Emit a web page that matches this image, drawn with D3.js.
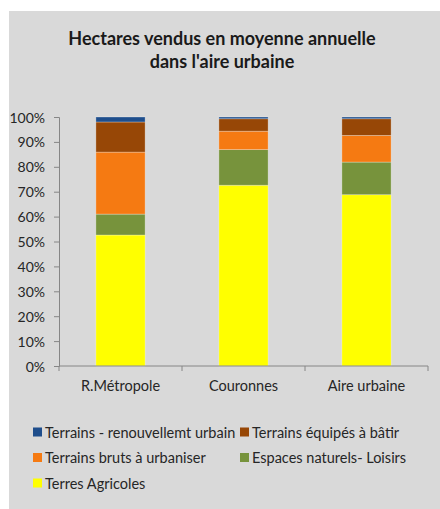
<!DOCTYPE html>
<html>
<head>
<meta charset="utf-8">
<script src="https://cdn.jsdelivr.net/npm/d3@7"></script>
<style>
  body { margin: 0; background: #fff; }
  text { font-family: Lato, sans-serif; fill: #1a1a1a; }
</style>
</head>
<body>
<svg id="chart" width="440" height="509"></svg>
<script>
const categories = ['R.Métropole', 'Couronnes', 'Aire urbaine'];
const seriesNames = ['Terres Agricoles', 'Espaces naturels- Loisirs', 'Terrains bruts à urbaniser', 'Terrains équipés à bâtir', 'Terrains - renouvellemt urbain'];
const agricoles = [52.6, 72.6, 68.8];
const naturels = [8.4, 14.3, 13.1];
const bruts = [24.9, 7.4, 10.7];
const equipes = [12.1, 5.0, 6.7];
const renouvellement = [2.0, 0.7, 0.7];
const yTicks = [0, 10, 20, 30, 40, 50, 60, 70, 80, 90, 100];
const colors = ['#ffff00', '#77933c', '#f57a12', '#974706', '#1f4e8c'];

const svg = d3.select('#chart');
const width = 440;
const height = 509;
const margin = { top: 117, bottom: 143, left: 59, right: 12 };
const innerWidth = width - margin.left - margin.right;
const innerHeight = height - margin.top - margin.bottom;

// grey chart area
svg.append('rect')
    .attr('x', 9).attr('y', 11)
    .attr('width', width - 9).attr('height', height - 11)
    .style('fill', '#d9d9d9');

svg.append('text')
    .attr('x', 222).attr('y', 45)
    .attr('text-anchor', 'middle')
    .style('font-weight', 'bold').style('font-size', '18px')
    .text('Hectares vendus en moyenne annuelle');
svg.append('text')
    .attr('x', 222).attr('y', 68)
    .attr('text-anchor', 'middle')
    .style('font-weight', 'bold').style('font-size', '18px')
    .text("dans l'aire urbaine");

const allSeries = [agricoles, naturels, bruts, equipes, renouvellement];
const table = categories.map((c, i) => {
    const row = { cat: c };
    seriesNames.forEach((s, j) => { row[s] = allSeries[j][i]; });
    return row;
});
const stacked = d3.stack().keys(seriesNames)(table);

const xScale = d3.scaleBand()
    .domain(categories)
    .range([0, innerWidth])
    .paddingInner(0.6)
    .paddingOuter(0.3);
const yScale = d3.scaleLinear()
    .domain([0, 100])
    .range([innerHeight, 0]);

const g = svg.append('g')
    .attr('transform', 'translate(' + margin.left + ', ' + margin.top + ')');

g.selectAll('g.layer')
    .data(stacked)
    .enter()
    .append('g')
    .attr('class', 'layer')
    .style('fill', (d, i) => colors[i])
    .selectAll('rect')
    .data(d => d)
    .enter()
    .append('rect')
    .attr('x', d => xScale(d.data.cat))
    .attr('width', xScale.bandwidth())
    .attr('y', d => yScale(d[1]))
    .attr('height', d => yScale(d[0]) - yScale(d[1]))
    .style('stroke', 'rgba(255,255,255,0.35)')
    .style('stroke-width', 0.8);

const yAxis = d3.axisLeft(yScale)
    .tickValues(yTicks)
    .tickFormat(d => d + '%')
    .tickSize(5)
    .tickPadding(9);
const gY = g.append('g').call(yAxis);
gY.attr('font-size', 14).attr('font-family', 'Lato, sans-serif');
gY.selectAll('.domain, line').style('stroke', '#868686');
gY.selectAll('text')
    .attr('dy', null)
    .attr('y', 5)
    .style('fill', '#262626');

// category axis with ticks between the bars
const xAxis = d3.axisBottom(xScale).tickSize(0).tickPadding(14);
const gX = g.append('g')
    .attr('transform', 'translate(0,' + innerHeight + ')')
    .call(xAxis);
gX.attr('font-size', 14.5).attr('font-family', 'Lato, sans-serif');
gX.selectAll('.domain').remove();
gX.selectAll('text')
    .attr('dy', null)
    .attr('y', 25)
    .style('fill', '#262626');
gX.append('line')
    .attr('x1', 0).attr('x2', innerWidth)
    .style('stroke', '#868686');
const sepTicks = [0].concat(categories.map((c, i) => innerWidth * (i + 1) / categories.length));
gX.selectAll('line.sep')
    .data(sepTicks)
    .enter()
    .append('line')
    .attr('class', 'sep')
    .attr('x1', d => d).attr('x2', d => d)
    .attr('y1', 0).attr('y2', 5)
    .style('stroke', '#868686');

// legend
const legendOrder = ['Terrains - renouvellemt urbain', 'Terrains équipés à bâtir', 'Terrains bruts à urbaniser', 'Espaces naturels- Loisirs', 'Terres Agricoles'];
const legend = svg.append('g');
const items = legend.selectAll('g')
    .data(legendOrder)
    .enter()
    .append('g')
    .attr('transform', (d, i) => 'translate(' + (i % 2 === 0 ? 33 : 240) + ',' + (432 + Math.floor(i / 2) * 25.5) + ')');
items.append('rect')
    .attr('x', 0).attr('y', -4.5)
    .attr('width', 9).attr('height', 9)
    .style('fill', d => colors[seriesNames.indexOf(d)]);
items.append('text')
    .attr('x', 12).attr('y', 5.5)
    .style('font-size', '14.5px')
    .style('fill', '#262626')
    .text(d => d);
</script>
</body>
</html>
